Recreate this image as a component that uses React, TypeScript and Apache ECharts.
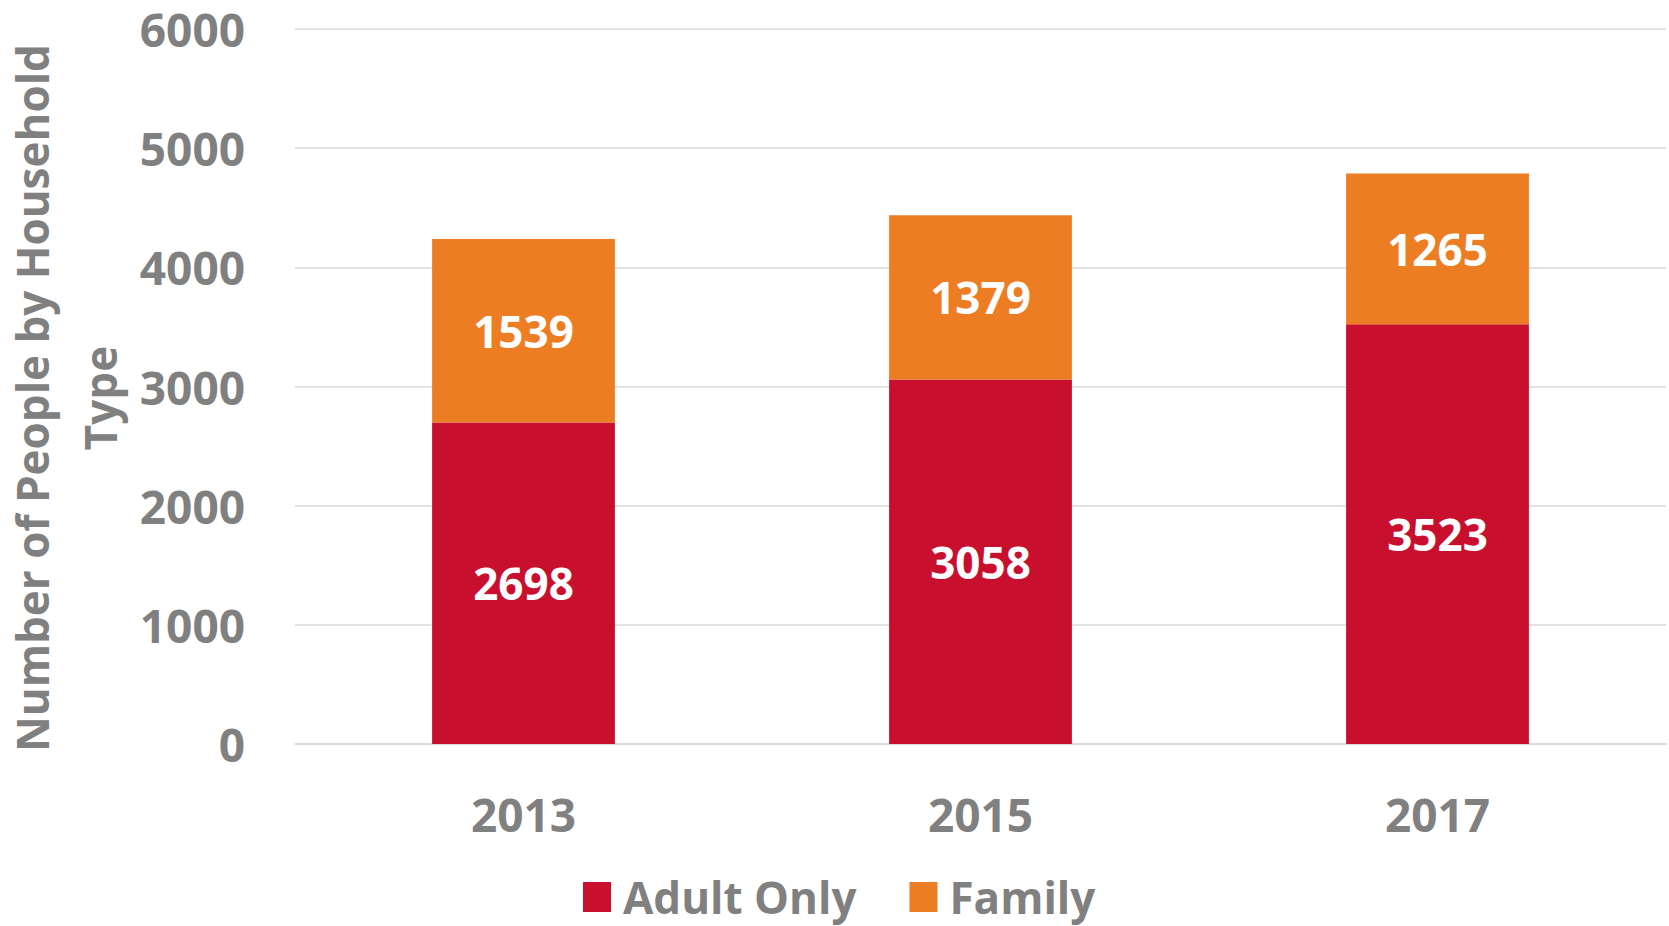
import React, { useEffect, useRef } from "react";
import * as echarts from "echarts";

const categories = ["2013", "2015", "2017"];
const adultOnly = [2698, 3058, 3523];
const family = [1539, 1379, 1265];
const seriesNames = ["Adult Only", "Family"];
const yTitleLines = ["Number of People by Household", "Type"];

const FONT = "'Open Sans', 'Noto Sans', sans-serif";
const GRAY = "#808080";

export default function App() {
  const ref = useRef<HTMLDivElement>(null);
  useEffect(() => {
    document.body.style.margin = "0";
    const chart = echarts.init(ref.current!, null, { renderer: "svg" });
    chart.setOption({
      animation: false,
      backgroundColor: "#ffffff",
      grid: { left: 295, right: 3, top: 29, bottom: 182, containLabel: false },
      legend: {
        left: 578,
        top: 870,
        itemWidth: 28,
        itemHeight: 30,
        itemGap: 53,
        icon: "rect",
        textStyle: { color: GRAY, fontSize: 44, fontWeight: "bold", fontFamily: FONT, padding: [0, 0, 0, 7] },
        data: seriesNames,
      },
      xAxis: {
        type: "category",
        data: categories,
        axisLine: { show: true, lineStyle: { color: "#d9d9d9", width: 1.5 } },
        axisTick: { show: false },
        axisLabel: {
          color: GRAY,
          fontSize: 46,
          fontWeight: "bold",
          fontFamily: FONT,
          margin: 47,
          lineHeight: 46,
        },
      },
      yAxis: {
        type: "value",
        min: 0,
        max: 6000,
        interval: 1000,
        axisLine: { show: false },
        axisTick: { show: false },
        splitLine: { lineStyle: { color: "#d9d9d9", width: 1.5 } },
        axisLabel: {
          color: GRAY,
          fontSize: 46,
          fontWeight: "bold",
          fontFamily: FONT,
          margin: 50,
          lineHeight: 40,
          formatter: (v: number) => String(v),
        },
      },
      graphic: [
        {
          type: "text",
          x: 66,
          y: 398,
          rotation: Math.PI / 2,
          style: {
            text: yTitleLines.join("\n"),
            fill: GRAY,
            font: `bold 44px ${FONT}`,
            lineHeight: 68,
            textAlign: "center",
            textVerticalAlign: "middle",
          },
        },
      ],
      series: [
        {
          name: seriesNames[0],
          type: "bar",
          stack: "total",
          data: adultOnly,
          barCategoryGap: "60%",
          itemStyle: { color: "#C8102E" },
          label: {
            show: true,
            position: "inside",
            color: "#ffffff",
            fontSize: 44,
            fontWeight: "bold",
            fontFamily: FONT,
          },
        },
        {
          name: seriesNames[1],
          type: "bar",
          stack: "total",
          data: family,
          barCategoryGap: "60%",
          itemStyle: { color: "#ED7D22" },
          label: {
            show: true,
            position: "inside",
            color: "#ffffff",
            fontSize: 44,
            fontWeight: "bold",
            fontFamily: FONT,
          },
        },
      ],
    });
    return () => chart.dispose();
  }, []);
  return <div ref={ref} style={{ width: 1669, height: 926 }} />;
}
